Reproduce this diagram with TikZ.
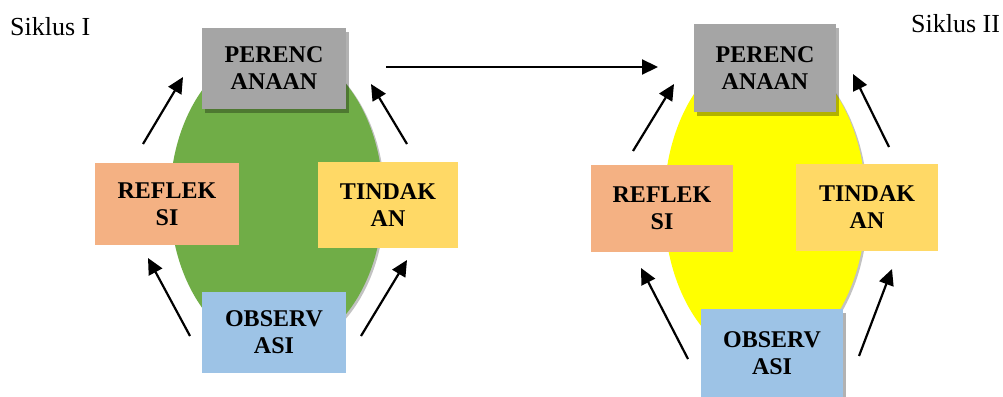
\documentclass[tikz,border=0pt]{standalone}
\usepackage{fontspec}
\setmainfont{Liberation Serif}
\usetikzlibrary{arrows.meta, shapes.geometric, shadows}

\definecolor{hijau}{HTML}{70AD47}
\definecolor{kuning}{HTML}{FFFF00}
\definecolor{abu}{HTML}{A5A5A5}
\definecolor{oranye}{HTML}{F4B183}
\definecolor{emas}{HTML}{FFD966}
\definecolor{biru}{HTML}{9DC3E6}

\begin{document}
\begin{tikzpicture}[x=1pt, y=-1pt]

\tikzset{box/.style = {shape=rectangle, inner sep=0pt, align=center, font=\bfseries\fontsize{24}{27}\selectfont}}
\tikzset{bayang/.style = {drop shadow={shadow xshift=3pt, shadow yshift=-4pt, fill=black, opacity=.3}}}
\tikzset{siklus/.style = {shape=ellipse, inner sep=0pt, drop shadow={shadow xshift=2pt, shadow yshift=-2pt, fill=black!60, opacity=.4}}}
\tikzset{edge/.style = {-{Triangle[length=16pt,width=15pt]}, line width=2.2pt}}
\useasboundingbox (0,0) rectangle (1003,396);

%judul
\node[anchor=base west, font=\fontsize{26}{30}\selectfont, inner sep=0pt] (s1) at (10,36) {Siklus I};
\node[anchor=base west, font=\fontsize{26}{30}\selectfont, inner sep=0pt] (s2) at (911,33) {Siklus II};

%siklus I
\node[siklus, fill=hijau, minimum width=213pt, minimum height=304pt] (el1) at (276.5,199) {};
\node[box, bayang, fill=abu, minimum width=144pt, minimum height=81pt] (pr1) at (274,68.5) {PERENC\\ANAAN};
\node[box, fill=oranye, minimum width=144pt, minimum height=82pt] (rf1) at (167,204) {REFLEK\\SI};
\node[box, fill=emas, minimum width=140pt, minimum height=86pt] (td1) at (388,205) {TINDAK\\AN};
\node[box, fill=biru, minimum width=144pt, minimum height=81pt] (ob1) at (274,332.5) {OBSERV\\ASI};

%siklus II
\node[siklus, fill=kuning, minimum width=202pt, minimum height=312pt] (el2) at (765,205) {};
\node[box, bayang, fill=abu, minimum width=142pt, minimum height=88pt] (pr2) at (765,68) {PERENC\\ANAAN};
\node[box, fill=oranye, minimum width=142pt, minimum height=87pt] (rf2) at (662,208.5) {REFLEK\\SI};
\node[box, fill=emas, minimum width=142pt, minimum height=87pt] (td2) at (867,207.5) {TINDAK\\AN};
\node[box, bayang, fill=biru, minimum width=142pt, minimum height=88pt] (ob2) at (772,353) {OBSERV\\ASI};

%ujung panah
\coordinate (a1) at (143,144);  \coordinate (b1) at (183,77);
\coordinate (a2) at (407,144);  \coordinate (b2) at (371,84);
\coordinate (a3) at (190,336);  \coordinate (b3) at (148,258);
\coordinate (a4) at (361,336);  \coordinate (b4) at (407,260);
\coordinate (a5) at (386,67);   \coordinate (b5) at (658,67);
\coordinate (a6) at (633,151);  \coordinate (b6) at (674,84);
\coordinate (a7) at (889,147);  \coordinate (b7) at (853,74);
\coordinate (a8) at (688,359);  \coordinate (b8) at (641,268);
\coordinate (a9) at (859,356);  \coordinate (b9) at (892,269);

\draw [edge] (a1) -- (b1);
\draw [edge] (a2) -- (b2);
\draw [edge] (a3) -- (b3);
\draw [edge] (a4) -- (b4);
\draw [edge] (a5) -- (b5);
\draw [edge] (a6) -- (b6);
\draw [edge] (a7) -- (b7);
\draw [edge] (a8) -- (b8);
\draw [edge] (a9) -- (b9);

\end{tikzpicture}
\end{document}
